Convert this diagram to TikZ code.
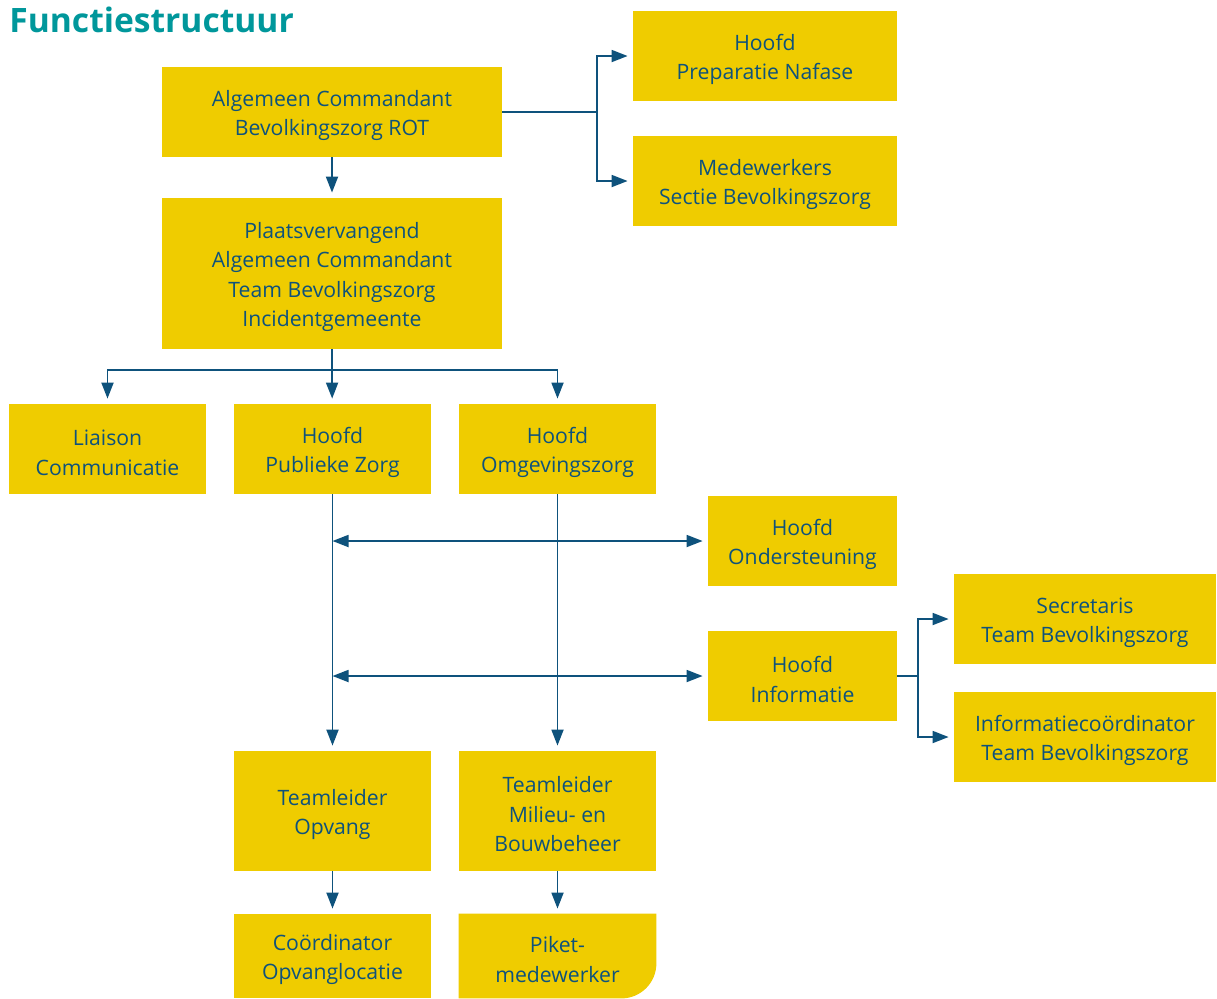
\documentclass[tikz,border=0pt]{standalone}
\usepackage{fontspec}
\setmainfont{Open Sans}
\usetikzlibrary{arrows.meta,backgrounds}
\definecolor{boxyellow}{RGB}{239,204,0}
\definecolor{lineblue}{RGB}{14,82,124}
\definecolor{titleteal}{RGB}{0,151,155}
\newcommand{\topstrut}{\rule{0pt}{11.5pt}}

\begin{document}
\begin{tikzpicture}[x=0.5pt, y=-0.5pt,
		box/.style={fill=boxyellow, text=lineblue, align=center, inner sep=0pt,
			font=\fontsize{10.6}{14.75}\selectfont},
		wide/.style={box, minimum width=170pt, minimum height=45pt},
		side/.style={box, minimum width=132pt, minimum height=45pt},
		unit/.style={box, minimum width=98.5pt, minimum height=45pt},
		small/.style={box, minimum width=94.5pt, minimum height=45pt},
		link/.style={draw=lineblue, line width=0.9pt},
		arrow/.style={link, -{Triangle[length=8pt,width=6pt]}, shorten >=2.5pt},
		dblarrow/.style={link, {Triangle[length=8pt,width=6pt]}-{Triangle[length=8pt,width=6pt]}, shorten >=2.5pt}]
		\useasboundingbox (0,0) rectangle (1217,998);

		\node (title)[anchor=base west, text=titleteal, font=\fontsize{16.8}{20}\selectfont\bfseries, inner sep=0pt] at (9,32) {Functiestructuur};

		\node (rot)[wide] at (332,112) {\topstrut Algemeen Commandant\\Bevolkingszorg ROT};
		\node (prep)[side] at (765,56) {\topstrut Hoofd\\Preparatie Nafase};
		\node (medew)[side] at (765,181) {\topstrut Medewerkers\\Sectie Bevolkingszorg};
		\node (plv)[wide, minimum height=75.5pt] at (332,273.5) {\topstrut Plaatsvervangend\\Algemeen Commandant\\Team Bevolkingszorg\\Incidentgemeente};

		\node (liaison)[unit] at (107.5,449) {\topstrut Liaison\\Communicatie};
		\node (pz)[unit] at (332.5,449) {\topstrut Hoofd\\Publieke Zorg};
		\node (oz)[unit] at (557.5,449) {\topstrut Hoofd\\Omgevingszorg};

		\node (onderst)[small] at (802.5,541) {\topstrut Hoofd\\Ondersteuning};
		\node (info)[small] at (802.5,676) {\topstrut Hoofd\\Informatie};
		\node (secr)[side, minimum width=131pt] at (1085,619) {\topstrut Secretaris\\Team Bevolkingszorg};
		\node (infoco)[side, minimum width=131pt] at (1085,737) {\topstrut Informatiecoördinator\\Team Bevolkingszorg};

		\node (opvang)[unit, minimum height=60pt] at (332.5,811) {\topstrut Teamleider\\Opvang};
		\node (milieu)[unit, minimum height=60pt] at (557.5,811) {\topstrut Teamleider\\Milieu- en\\Bouwbeheer};
		\node (coord)[unit, minimum height=42pt] at (332.5,956) {\topstrut Coördinator\\Opvanglocatie};
		\node (piket)[box, fill=none, minimum width=98.5pt, minimum height=42pt] at (557.5,956) {\topstrut Piket-\\medewerker};
		\begin{pgfonlayer}{background}
			\fill[boxyellow] (piket.north west) -- (piket.north east) -- ([yshift=17.5pt]piket.south east)
				arc[start angle=0, end angle=-90, radius=17.5pt] -- (piket.south west) -- cycle;
		\end{pgfonlayer}

		\coordinate (split1) at (597,112);
		\coordinate (split2) at (332,370);
		\coordinate (split3) at (918,676);

		\draw [link](rot) -- (split1);
		\draw [arrow](split1) |- (prep);
		\draw [arrow](split1) |- (medew);
		\draw [arrow](rot) -- (plv);

		\draw [link](plv) -- (split2);
		\draw [arrow](split2) -| (liaison);
		\draw [arrow](split2) -- (pz);
		\draw [arrow](split2) -| (oz);

		\draw [arrow](pz) -- (opvang);
		\draw [arrow](oz) -- (milieu);
		\draw [dblarrow](pz.south |- onderst.west) -- (onderst);
		\draw [dblarrow](pz.south |- info.west) -- (info);

		\draw [link](info) -- (split3);
		\draw [arrow](split3) |- (secr);
		\draw [arrow](split3) |- (infoco);

		\draw [arrow](opvang) -- (coord);
		\draw [arrow](milieu) -- (piket);
	\end{tikzpicture}
\end{document}
